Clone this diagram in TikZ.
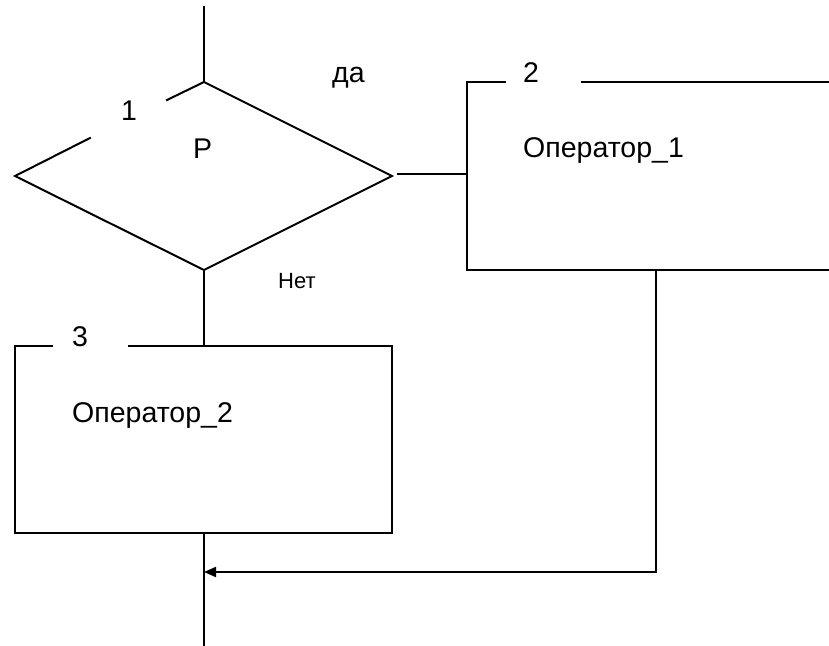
\documentclass[tikz,border=0pt]{standalone}
\usepackage{fontspec}
\setmainfont{Liberation Sans}
\usetikzlibrary{arrows.meta}
\begin{document}
\begin{tikzpicture}[x=1pt,y=-1pt,
  line/.style={line width=2pt,line cap=rect},
  lbl/.style={inner sep=0pt,anchor=base west,font=\fontsize{28.5}{30}\selectfont},
  small/.style={inner sep=0pt,anchor=base west,font=\fontsize{22}{24}\selectfont}]
\useasboundingbox (0,0) rectangle (829,645);
% entry line and decision
\coordinate (in) at (204,7);
\coordinate (dT) at (204,82);
\coordinate (dL) at (15,176);
\coordinate (dR) at (392,176);
\coordinate (dB) at (204,270);
\coordinate (gapA) at (90,138);
\coordinate (gapB) at (167,100);
% branch "yes"
\coordinate (yA) at (398,174);
\coordinate (b2L) at (467,174);
\coordinate (b2TL) at (467,82);
\coordinate (b2BL) at (467,270);
\coordinate (b2BR) at (829,270);
\coordinate (b2TA) at (505,82);
\coordinate (b2TB) at (582,82);
\coordinate (b2TR) at (829,82);
\coordinate (b2out) at (656,270);
\coordinate (bend) at (656,572);
% branch "no"
\coordinate (b3T) at (204,346);
\coordinate (b3TL) at (15,346);
\coordinate (b3BL) at (15,533);
\coordinate (b3BR) at (392,533);
\coordinate (b3TR) at (392,346);
\coordinate (b3TA) at (52,346);
\coordinate (b3TB) at (129,346);
\coordinate (b3B) at (204,533);
\coordinate (join) at (204,572);
\coordinate (out) at (204,645);

\draw[line] (in) -- (dT);
\draw[line,line join=miter] (gapB) -- (dT) -- (dR) -- (dB) -- (dL) -- (gapA);
\draw[line] (yA) -- (b2L);
\draw[line,line join=miter] (b2TA) -- (b2TL) -- (b2BL) -- (b2BR);
\draw[line] (b2TB) -- (b2TR);
\draw[line] (dB) -- (b3T);
\draw[line,line join=miter] (b3TA) -- (b3TL) -- (b3BL) -- (b3BR) -- (b3TR) -- (b3TB);
\draw[line] (b3B) -- (out);
\draw[line,line join=miter,-{Triangle[length=12pt,width=10pt]}] (b2out) -- (bend) -- (join);

% labels
\node[lbl] (n1) at (121,120) {1};
\node[lbl] (p) at (193,158) {Р};
\node[lbl] (yes) at (332,82) {да};
\node[lbl] (n2) at (523,82) {2};
\node[lbl] (op1) at (523,157) {Оператор\_1};
\node[small] (no) at (278,288) {Нет};
\node[lbl] (n3) at (72,346) {3};
\node[lbl] (op2) at (72,422) {Оператор\_2};
\end{tikzpicture}
\end{document}
